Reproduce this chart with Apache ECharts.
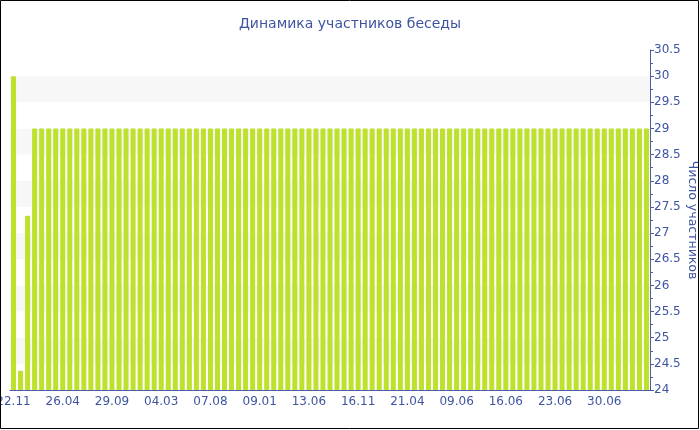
<!DOCTYPE html>
<html><head><meta charset="utf-8">
<script src="https://cdn.jsdelivr.net/npm/echarts@6/dist/echarts.min.js"></script>
<style>html,body{margin:0;padding:0;background:#fff}#c{width:700px;height:430px}</style>
</head><body><div id="c"></div>
<script>
const titleText = "Динамика участников беседы";
const yAxisName = "Число участников";
const categories = [
"22.11","14.12","05.01","27.01","18.02","12.03","03.04",
"26.04","18.05","09.06","01.07","23.07","14.08","05.09",
"29.09","21.10","12.11","04.12","26.12","17.01","08.02",
"04.03","26.03","17.04","09.05","31.05","22.06","14.07",
"07.08","29.08","20.09","12.10","03.11","25.11","17.12",
"09.01","31.01","22.02","16.03","07.04","29.04","21.05",
"13.06","05.07","27.07","18.08","09.09","01.10","23.10",
"16.11","08.12","30.12","21.01","12.02","06.03","28.03",
"21.04","28.04","05.05","12.05","19.05","26.05","02.06",
"09.06","10.06","11.06","12.06","13.06","14.06","15.06",
"16.06","17.06","18.06","19.06","20.06","21.06","22.06",
"23.06","24.06","25.06","26.06","27.06","28.06","29.06",
"30.06","01.07","02.07","03.07","04.07","05.07","06.07"
];
const members = [
30,24.37,27.33,29,29,29,29,
29,29,29,29,29,29,29,
29,29,29,29,29,29,29,
29,29,29,29,29,29,29,
29,29,29,29,29,29,29,
29,29,29,29,29,29,29,
29,29,29,29,29,29,29,
29,29,29,29,29,29,29,
29,29,29,29,29,29,29,
29,29,29,29,29,29,29,
29,29,29,29,29,29,29,
29,29,29,29,29,29,29,
29,29,29,29,29,29,29
];
const textColor = '#3e54a3';
const axisColor = '#4a5ea8';
const chart = echarts.init(document.getElementById('c'), null, {renderer:'canvas'});
chart.setOption({
  animation:false,
  textStyle:{fontFamily:'DejaVu Sans'},
  title:{text:titleText,left:'center',top:12,textStyle:{color:textColor,fontSize:14,fontWeight:'normal',fontFamily:'DejaVu Sans'}},
  grid:{left:10,right:50,top:50,bottom:40,containLabel:false,outerBoundsMode:'none'},
  xAxis:{type:'category',data:categories,
    axisLine:{lineStyle:{color:axisColor,width:1}},
    axisTick:{alignWithLabel:true,interval:6,length:4,lineStyle:{color:axisColor}},
    axisLabel:{interval:6,color:textColor,fontSize:12,margin:6,fontFamily:'DejaVu Sans'},
    splitLine:{show:false}},
  yAxis:{type:'value',position:'right',min:24,max:30.5,interval:0.5,
    name:yAxisName,nameLocation:'middle',nameRotate:-90,nameGap:36,nameMoveOverlap:false,
    nameTextStyle:{color:textColor,fontSize:12.5,fontFamily:'DejaVu Sans'},
    axisLine:{show:true,lineStyle:{color:axisColor}},
    axisTick:{show:true,length:4,lineStyle:{color:axisColor}},
    minorTick:{show:true,splitNumber:2,length:3,lineStyle:{color:axisColor}},
    axisLabel:{color:textColor,fontSize:12,margin:4,fontFamily:'DejaVu Sans'},
    splitLine:{show:false},
    splitArea:{show:true,areaStyle:{color:['#ffffff','#f7f7f7']}}},
  series:[{type:'bar',data:members,barCategoryGap:'28%',
    itemStyle:{color:'#bee12e',borderRadius:[1,1,0,0]}}],
  graphic:[{type:'rect',shape:{x:0.5,y:0.5,width:698,height:428},
    style:{fill:'none',stroke:'#000',lineWidth:1},z:100}]
});
</script></body></html>
